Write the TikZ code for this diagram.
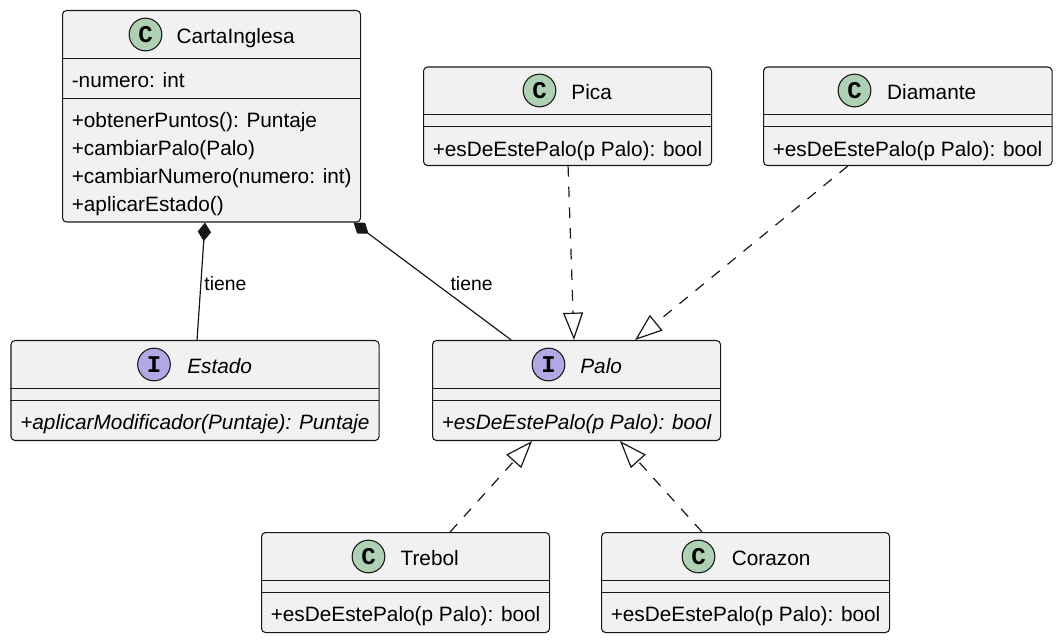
\documentclass[tikz,border=0pt]{standalone}
\usepackage{fontspec}
\setmainfont{Liberation Sans}
\newfontfamily\iconfont{Liberation Mono}
\usetikzlibrary{arrows.meta}
\definecolor{boxfill}{HTML}{F1F1F1}
\definecolor{linecol}{HTML}{181818}
\definecolor{classcol}{HTML}{ADD1B2}
\definecolor{ifacecol}{HTML}{B4A7E5}
\tikzset{
  classbox/.style 2 args={draw=linecol,fill=boxfill,line width=0.8pt,rounded corners=3pt,anchor=north west,
    minimum width=#1*0.75pt,minimum height=#2*0.75pt,inner sep=0pt},
  sepline/.style={draw=linecol,line width=0.7pt},
  icon/.style={circle,draw=linecol,line width=0.8pt,minimum size=24.5pt,inner sep=0pt,font=\iconfont\bfseries\fontsize{18}{18}\selectfont},
  iconc/.style={icon,fill=classcol},
  iconi/.style={icon,fill=ifacecol},
  txt/.style={font=\fontsize{15.6}{18}\selectfont,text=black,inner sep=0pt},
  itxt/.style={font=\fontsize{15.6}{18}\selectfont\itshape},
  member/.style={txt,anchor=base west,yshift=-0.75pt},
  title/.style={txt,anchor=base,yshift=-0.75pt,xshift=0.5pt},
  linklabel/.style={font=\fontsize{14.5}{18}\selectfont,text=black,inner sep=0pt,anchor=west},
  assoc/.style={draw=linecol,line width=0.9pt,{Diamond[length=14pt,width=10pt,fill=linecol]}-},
  realize/.style={draw=linecol,line width=0.9pt,dash pattern=on 8pt off 7.5pt,
    -{Triangle[open,length=20.5pt,width=15pt,fill=white]}},
}
\begin{document}
\begin{tikzpicture}[x=0.75pt,y=-0.75pt]
  \useasboundingbox (0.5,0.5) rectangle (1060.5,641.5);
  % CartaInglesa
  \node[classbox={298}{211.5}] (carta) at (62.5,10.5) {};
  \draw[sepline] (62.5,58.5) -- (360.5,58.5);
  \draw[sepline] (62.5,98.5) -- (360.5,98.5);
  \node[iconc] (cartaicon) at (146,35) {C};
  \node[title] (cartaname) at (235.5,43) {CartaInglesa};
  \node[member] (cartaattr) at (72,87) {-numero: int};
  \node[member] (cartam1) at (72,127) {+obtenerPuntos(): Puntaje};
  \node[member] (cartam2) at (72,155) {+cambiarPalo(Palo)};
  \node[member] (cartam3) at (72,183) {+cambiarNumero(numero: int)};
  \node[member] (cartam4) at (72,211) {+aplicarEstado()};
  % Pica
  \node[classbox={288}{98.5}] (pica) at (423.5,67) {};
  \draw[sepline] (423.5,115) -- (711.5,115);
  \draw[sepline] (423.5,127) -- (711.5,127);
  \node[iconc] (picaicon) at (540,91) {C};
  \node[title] (picaname) at (591.5,99) {Pica};
  \node[member] (picam1) at (433,156) {+esDeEstePalo(p Palo): bool};
  % Diamante
  \node[classbox={288.5}{98.5}] (diamante) at (763.5,67) {};
  \draw[sepline] (763.5,115) -- (1052,115);
  \draw[sepline] (763.5,127) -- (1052,127);
  \node[iconc] (diamanteicon) at (855,91) {C};
  \node[title] (diamantename) at (931.5,99) {Diamante};
  \node[member] (diamantem1) at (773,156) {+esDeEstePalo(p Palo): bool};
  % Estado
  \node[classbox={368}{100}] (estado) at (11,340.5) {};
  \draw[sepline] (11,388.5) -- (379,388.5);
  \draw[sepline] (11,400.5) -- (379,400.5);
  \node[iconi] (estadoicon) at (154.5,365) {I};
  \node[title,itxt] (estadoname) at (219.5,373) {Estado};
  \node[member,itxt] (estadom1) at (20.5,429) {+aplicarModificador(Puntaje): Puntaje};
  % Palo
  \node[classbox={288}{100}] (palo) at (432.5,340.5) {};
  \draw[sepline] (432.5,388.5) -- (720.5,388.5);
  \draw[sepline] (432.5,400.5) -- (720.5,400.5);
  \node[iconi] (paloicon) at (549,365) {I};
  \node[title,itxt] (paloname) at (601,373) {Palo};
  \node[member,itxt] (palom1) at (442,429) {+esDeEstePalo(p Palo): bool};
  % Trebol
  \node[classbox={288}{100}] (trebol) at (261.5,532.5) {};
  \draw[sepline] (261.5,580.5) -- (549.5,580.5);
  \draw[sepline] (261.5,592.5) -- (549.5,592.5);
  \node[iconc] (trebolicon) at (369,557) {C};
  \node[title] (trebolname) at (429.5,565) {Trebol};
  \node[member] (trebolm1) at (271,621) {+esDeEstePalo(p Palo): bool};
  % Corazon
  \node[classbox={288}{100}] (corazon) at (601.5,532.5) {};
  \draw[sepline] (601.5,580.5) -- (889.5,580.5);
  \draw[sepline] (601.5,592.5) -- (889.5,592.5);
  \node[iconc] (corazonicon) at (699,557) {C};
  \node[title] (corazonname) at (771,565) {Corazon};
  \node[member] (corazonm1) at (611,621) {+esDeEstePalo(p Palo): bool};
  % Relaciones
  \draw[assoc] ([xshift=-4.9pt]carta.south) -- ([xshift=1.5pt]estado.north) node[linklabel,pos=0.517,xshift=2.2pt] (tiene1) {tiene};
  \draw[assoc] ([xshift=-5.6pt]carta.south east) -- ([xshift=-49pt]palo.north) node[linklabel,pos=0.517,xshift=11.2pt] (tiene2) {tiene};
  \draw[realize] ([xshift=0.4pt]pica.south) -- ([xshift=-1.9pt]palo.north);
  \draw[realize] ([xshift=-45pt]diamante.south) -- ([xshift=43.9pt]palo.north);
  \draw[realize] ([xshift=33.4pt]trebol.north) -- ([xshift=-33.4pt]palo.south);
  \draw[realize] ([xshift=-32.6pt]corazon.north) -- ([xshift=32.6pt]palo.south);
\end{tikzpicture}
\end{document}
